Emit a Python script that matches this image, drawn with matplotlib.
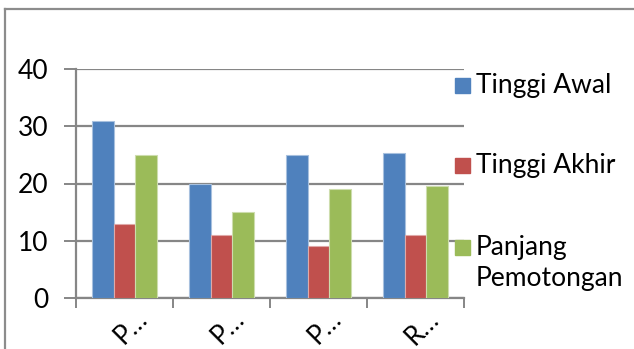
import matplotlib
matplotlib.use("Agg")
import matplotlib.pyplot as plt
from matplotlib.patches import Rectangle
from matplotlib.lines import Line2D
import numpy as np

categories = ["P…", "P…", "P…", "R…"]
series_names = ["Tinggi Awal", "Tinggi Akhir", "Panjang\nPemotongan"]
tinggi_awal = [31, 20, 25, 25.3]
tinggi_akhir = [13, 11, 9, 11]
panjang_pemotongan = [25, 15, 19, 19.6]
y_ticks = [0, 10, 20, 30, 40]

colors = ["#4F81BD", "#C0504D", "#9BBB59"]
edge_colors = ["#A7C0DE", "#DFA9A8", "#CDDDAD"]
grid_color = "#868686"

W, H = 634, 349
DPI = 100
plt.rcParams["font.family"] = ["Lato", "DejaVu Sans"]
FS = 19

fig = plt.figure(figsize=(W / DPI, H / DPI), dpi=DPI)

def fx(px):
    return px / W

def fy(py):
    return 1 - py / H

# chart area frame
fig.add_artist(Line2D([fx(5), fx(5)], [fy(9), 0], color="#8C8C8C", lw=1.6,
                      transform=fig.transFigure))
fig.add_artist(Line2D([fx(5), 1], [fy(9), fy(9)], color="#8C8C8C", lw=1.6,
                      transform=fig.transFigure))

ax = fig.add_axes([fx(76), fy(298), fx(464) - fx(76), fy(69) - fy(298)])

x = np.arange(len(categories))
bw = 0.223
values = [tinggi_awal, tinggi_akhir, panjang_pemotongan]
for i, vals in enumerate(values):
    ax.bar(x + (i - 1) * bw, vals, width=bw, color=colors[i],
           edgecolor=edge_colors[i], linewidth=0.8, zorder=3)

ax.set_xlim(-0.5, len(categories) - 0.5)
ax.set_ylim(0, 40)
ax.set_yticks(y_ticks)
ax.set_yticklabels([str(v) for v in y_ticks], fontsize=FS)
ax.yaxis.grid(True, color=grid_color, lw=1.6, zorder=0)
ax.tick_params(axis="y", length=9, width=1.4, color=grid_color, pad=11)

# category boundary ticks
ax.set_xticks(np.arange(len(categories) + 1) - 0.5)
ax.set_xticklabels([])
ax.tick_params(axis="x", length=7, width=1.4, color=grid_color)
for xi, lab in zip(x, categories):
    ax.text(xi + 0.07, -0.035, lab, transform=ax.get_xaxis_transform(),
            rotation=45, ha="center", va="top", fontsize=FS)

for s in ["top", "right"]:
    ax.spines[s].set_visible(False)
for s in ["left", "bottom"]:
    ax.spines[s].set_color(grid_color)
    ax.spines[s].set_linewidth(1.6)

# legend
legend_y = [85.5, 165.5, 247]
for name, col, yc in zip(series_names, colors, legend_y):
    fig.add_artist(Rectangle((fx(455), fy(yc + 7.5)), fx(15), fy(yc - 7.5) - fy(yc + 7.5),
                             color=col, transform=fig.transFigure))
    fig.text(fx(476), fy(yc - 12), name, ha="left", va="top", fontsize=FS,
             linespacing=1.3)

fig.savefig("out.png", dpi=DPI)
